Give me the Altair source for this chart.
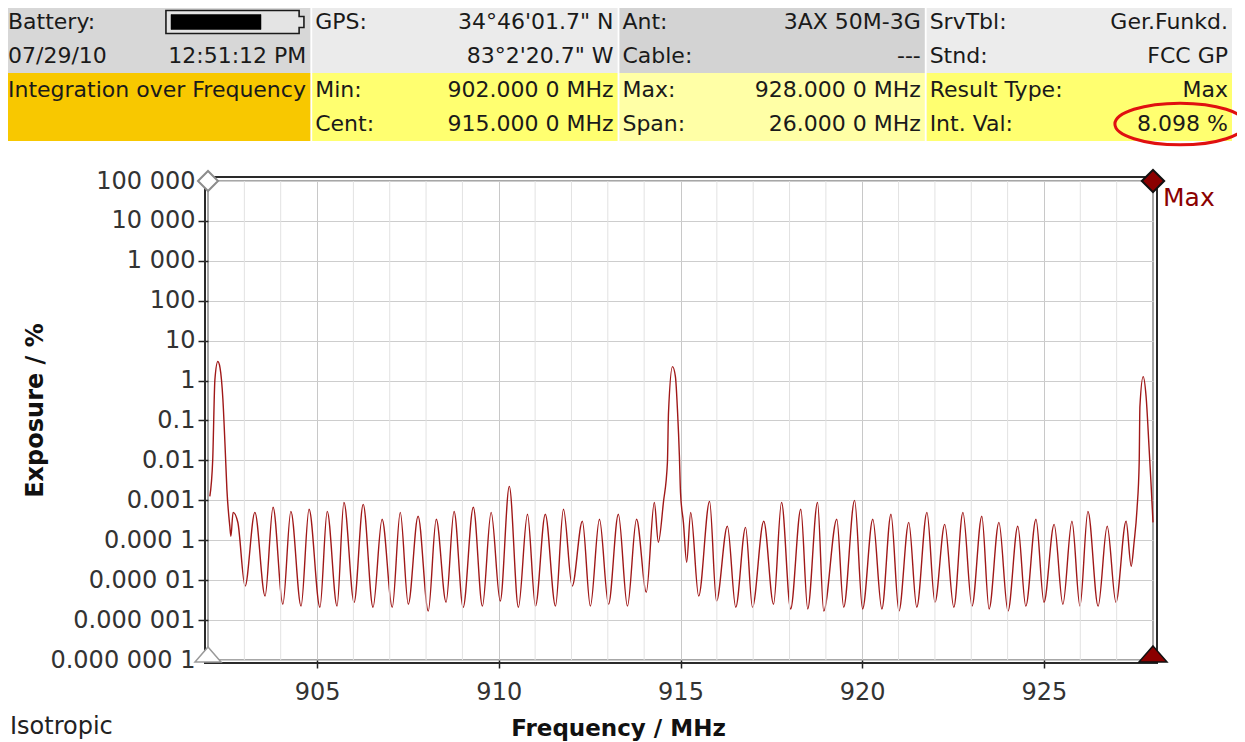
import altair as alt
import pandas as pd

# ---------------- data ----------------
FREQ_MHZ = [
    902.05, 902.13, 902.19, 902.27, 902.33, 902.41, 902.47, 902.52, 902.60, 902.63, 902.69, 902.82,
    903.02, 903.29, 903.57, 903.79, 904.06, 904.28, 904.56, 904.78,
    905.08, 905.28, 905.55, 905.74, 906.02, 906.27, 906.54, 906.79, 907.07, 907.29,
    907.51, 907.78, 908.06, 908.28, 908.55, 908.77, 909.02, 909.30, 909.55, 909.79,
    910.04, 910.29, 910.54, 910.79, 911.01, 911.28, 911.56, 911.78, 912.02, 912.30,
    912.52, 912.77, 913.02, 913.29, 913.54, 913.79, 914.06, 914.28, 914.39, 914.53,
    914.64, 914.67, 914.78, 914.86, 914.92, 914.97, 915.00, 915.08, 915.17, 915.28,
    915.50, 915.80, 915.99, 916.29, 916.52, 916.79, 916.98, 917.29, 917.56, 917.78,
    918.03, 918.31, 918.50, 918.77, 918.94, 919.30, 919.49, 919.79, 920.01, 920.29,
    920.54, 920.79, 921.01, 921.28, 921.50, 921.78, 922.00, 922.27, 922.52, 922.77,
    923.02, 923.29, 923.49, 923.76, 924.01, 924.28, 924.50, 924.78, 925.00, 925.28,
    925.52, 925.77, 925.99, 926.21, 926.49, 926.74, 926.98, 927.26, 927.40, 927.48,
    927.56, 927.62, 927.64, 927.73, 927.81, 927.89, 927.95, 928.00,
]
EXPOSURE_PCT = [
    1.26e-3, 1.06e-2, 1.06, 3.0, 2.11, 0.335, 0.0224, 1.88e-3, 2.24e-4, 1.26e-4, 5.0e-4, 2.82e-4,
    7.1e-6, 5.0e-4, 4.0e-6, 6.7e-4, 2.5e-6, 5.3e-4, 2.24e-6, 6.0e-4,
    2.1e-6, 5.3e-4, 2.24e-6, 8.9e-4, 2.8e-6, 7.9e-4, 2.1e-6, 3.35e-4, 2.1e-6, 5.0e-4,
    2.5e-6, 4.0e-4, 1.68e-6, 3.35e-4, 2.8e-6, 5.3e-4, 2.1e-6, 6.7e-4, 2.24e-6, 5.0e-4,
    3.0e-6, 2.24e-3, 2.1e-6, 4.5e-4, 2.24e-6, 4.5e-4, 2.24e-6, 6.0e-4, 7.1e-6, 3.0e-4,
    2.24e-6, 3.35e-4, 2.5e-6, 4.5e-4, 2.24e-6, 3.35e-4, 5.0e-6, 8.9e-4, 8.9e-5, 8.9e-4,
    8.9e-3, 0.158, 2.24, 1.26, 0.158, 0.0126, 1.58e-3, 2.8e-4, 2.8e-5, 5.0e-4,
    4.0e-6, 9.4e-4, 3.0e-6, 2.24e-4, 2.1e-6, 2.1e-4, 2.1e-6, 3.0e-4, 2.5e-6, 8.9e-4,
    1.9e-6, 6.0e-4, 1.9e-6, 8.9e-4, 1.68e-6, 3.35e-4, 2.1e-6, 1.0e-3, 1.9e-6, 3.35e-4,
    1.9e-6, 4.5e-4, 1.68e-6, 2.8e-4, 2.1e-6, 5.0e-4, 2.8e-6, 2.5e-4, 2.1e-6, 5.0e-4,
    2.24e-6, 4.0e-4, 1.9e-6, 2.8e-4, 1.68e-6, 2.24e-4, 2.24e-6, 3.35e-4, 2.8e-6, 2.5e-4,
    2.5e-6, 3.0e-4, 2.24e-6, 5.3e-4, 2.24e-6, 2.24e-4, 2.8e-6, 3.0e-4, 2.24e-5, 8.9e-5,
    6.0e-4, 8.9e-3, 0.224, 1.26, 0.398, 0.0224, 2.24e-3, 2.8e-4,
]

FREQ_MIN, FREQ_MAX = 902.0, 928.0
EXPO_MIN, EXPO_MAX = 1e-7, 1e5
X_TICKS = [905, 910, 915, 920, 925]
X_MINOR = [903, 904, 906, 907, 908, 909, 911, 912, 913, 914, 916, 917, 918, 919,
           921, 922, 923, 924, 926, 927]
Y_TICKS = [1e5, 1e4, 1e3, 100, 10, 1, 0.1, 0.01, 0.001, 1e-4, 1e-5, 1e-6, 1e-7]
Y_TICK_LABELS = ["100 000", "10 000", "1 000", "100", "10", "1", "0.1", "0.01",
                 "0.001", "0.000 1", "0.000 01", "0.000 001", "0.000 000 1"]

# header table (column, row, text)
HDR_LABEL_COL = [0, 0, 0, 1, 1, 1, 2, 2, 2, 2, 3, 3, 3, 3]
HDR_LABEL_ROW = [0, 1, 2, 0, 2, 3, 0, 1, 2, 3, 0, 1, 2, 3]
HDR_LABEL_TEXT = ["Battery:", "07/29/10", "Integration over Frequency",
                  "GPS:", "Min:", "Cent:",
                  "Ant:", "Cable:", "Max:", "Span:",
                  "SrvTbl:", "Stnd:", "Result Type:", "Int. Val:"]
HDR_VALUE_COL = [0, 1, 1, 1, 1, 2, 2, 2, 2, 3, 3, 3, 3]
HDR_VALUE_ROW = [1, 0, 1, 2, 3, 0, 1, 2, 3, 0, 1, 2, 3]
HDR_VALUE_TEXT = ["12:51:12 PM", "34°46'01.7\" N", "83°2'20.7\" W",
                  "902.000 0 MHz", "915.000 0 MHz",
                  "3AX 50M-3G", "---", "928.000 0 MHz", "26.000 0 MHz",
                  "Ger.Funkd.", "FCC GP", "Max", "8.098 %"]
HIGHLIGHT_COL, HIGHLIGHT_ROW = 3, 3

# ---------------- styling ----------------
FONT = "DejaVu Sans"
W, H = 945, 479
LINE_COLOR = "#a01818"
CELL_KEYS = ["0-s", "1-s", "2-s", "3-s", "0-r", "1-r", "2-r", "3-r"]
CELL_COLORS = ["#d7d7d7", "#ebebeb", "#d3d3d3", "#ececec",
               "#f8c800", "#ffff70", "#ffffa6", "#ffff70"]

# ---------------- header ----------------
cells = pd.DataFrame(
    [{"col": c, "row": r, "cell": f"{c}-{'s' if r < 2 else 'r'}"}
     for c in range(4) for r in range(4)]
)
labels_df = pd.DataFrame({"col": HDR_LABEL_COL, "row": HDR_LABEL_ROW, "text": HDR_LABEL_TEXT})
values_df = pd.DataFrame({"col": HDR_VALUE_COL, "row": HDR_VALUE_ROW, "text": HDR_VALUE_TEXT})
batt_df = pd.DataFrame({"col": [0], "row": [0]})
hl_df = pd.DataFrame({"col": [HIGHLIGHT_COL], "row": [HIGHLIGHT_ROW]})

hx = alt.Scale(type="band", domain=[0, 1, 2, 3], range=[-203, 1024], paddingInner=0.006, paddingOuter=0)
hy = alt.Scale(type="band", domain=[0, 1, 2, 3], range=[-176, -40], paddingInner=0, paddingOuter=0)


def HX(bp=None):
    if bp is None:
        return alt.X("col:O", scale=hx, axis=None)
    return alt.X("col:O", scale=hx, axis=None, bandPosition=bp)


HY = alt.Y("row:O", scale=hy, axis=None, bandPosition=0.5)

rects = alt.Chart(cells).mark_rect().encode(
    x=HX(), y=alt.Y("row:O", scale=hy, axis=None),
    color=alt.Color("cell:N", scale=alt.Scale(domain=CELL_KEYS, range=CELL_COLORS), legend=None),
)
hdr_labels = alt.Chart(labels_df).mark_text(
    align="left", baseline="middle", dx=3, font=FONT, fontSize=22, color="#1a1a1a"
).encode(x=HX(0), y=HY, text="text:N")
hdr_values = alt.Chart(values_df).mark_text(
    align="right", baseline="middle", dx=-4, font=FONT, fontSize=22, color="#1a1a1a"
).encode(x=HX(1), y=HY, text="text:N")
batt_outline = alt.Chart(batt_df).mark_point(
    shape="M-1,-0.167H0.93V-0.08H1V0.08H0.93V0.167H-1Z", size=19044,
    filled=True, fill="#e4e4e4", stroke="#1a1a1a", strokeWidth=1.6, opacity=1,
).encode(x=HX(0.753), y=HY)
batt_fill = alt.Chart(batt_df).mark_point(
    shape="M-1,-0.167H1V0.167H-1Z", size=8100,
    filled=True, fill="#000000", stroke="#000000", strokeWidth=0.5, opacity=1,
).encode(x=HX(0.691), y=HY)
ellipse = alt.Chart(hl_df).mark_point(
    shape="M-1,0A1,0.32,0,1,0,1,0A1,0.32,0,1,0,-1,0Z", size=17000,
    filled=False, stroke="#e01010", strokeWidth=3, opacity=1,
).encode(x=HX(0.83), y=HY)

# ---------------- plot ----------------
xs = alt.Scale(domain=[FREQ_MIN, FREQ_MAX], nice=False, zero=False)
ys = alt.Scale(type="log", domain=[EXPO_MIN, EXPO_MAX], nice=False)

label_expr = repr(Y_TICK_LABELS[-1])
for v, lab in reversed(list(zip(Y_TICKS[:-1], Y_TICK_LABELS[:-1]))):
    label_expr = f"datum.value > {v * 0.5:g} ? '{lab}' : ({label_expr})"

x_axis = alt.Axis(
    orient="bottom",
    values=X_TICKS, format="d", grid=True, gridColor="#c8c8c8", gridWidth=1,
    domain=False, ticks=True, tickSize=8, tickColor="#222", tickWidth=1.5,
    labelFont=FONT, labelFontSize=24, labelColor="#333", labelPadding=12, labelFlush=False,
    title="Frequency / MHz", titleFont=FONT, titleFontSize=23, titleFontWeight="bold",
    titleColor="#111", titleX=410, titleY=75, titleAlign="center", titleBaseline="alphabetic",
)
y_axis = alt.Axis(
    orient="left",
    values=Y_TICKS, labelExpr=label_expr, grid=True, gridColor="#cdcdcd", gridWidth=1,
    domain=False, ticks=True, tickSize=10, tickColor="#222", tickWidth=1.5,
    labelFont=FONT, labelFontSize=24, labelColor="#333", labelPadding=3,
    labelOverlap=False, labelFlush=False,
    title="Exposure / %", titleFont=FONT, titleFontSize=24, titleFontWeight="bold",
    titleColor="#111", titleX=-173, titleY=229, titleAngle=270,
    titleAlign="center", titleBaseline="middle",
)

line_df = pd.DataFrame({"freq": FREQ_MHZ, "expo": EXPOSURE_PCT})
grid_df = pd.DataFrame({"freq": X_MINOR})

minor_grid = alt.Chart(grid_df).mark_rule(color="#e2e2e2", strokeWidth=1).encode(
    x=alt.X("freq:Q", scale=xs, axis=None)
)
line = alt.Chart(line_df).mark_line(
    color=LINE_COLOR, strokeWidth=1.4, interpolate="monotone"
).encode(
    x=alt.X("freq:Q", scale=xs, axis=x_axis),
    y=alt.Y("expo:Q", scale=ys, axis=y_axis),
)

frame_df = pd.DataFrame({"f0": [FREQ_MIN], "f1": [FREQ_MAX], "e0": [EXPO_MAX], "e1": [EXPO_MIN]})
outer_frame = alt.Chart(frame_df).mark_rect(
    fill=None, fillOpacity=0, stroke="#2a2a2a", strokeWidth=2,
    xOffset=-3, x2Offset=4, yOffset=-4, y2Offset=3,
).encode(
    x=alt.X("f0:Q", scale=xs, axis=None), x2="f1:Q",
    y=alt.Y("e0:Q", scale=ys, axis=None), y2="e1:Q",
)


def marker(freq, expo, **kw):
    return alt.Chart(pd.DataFrame({"freq": [freq], "expo": [expo]})).mark_point(
        filled=True, opacity=1, **kw
    ).encode(
        x=alt.X("freq:Q", scale=xs, axis=None),
        y=alt.Y("expo:Q", scale=ys, axis=None),
    )


TRI = "M0,-1L1,0.15L-1,0.15Z"
m_tl = marker(FREQ_MIN, EXPO_MAX, shape="diamond", size=400, fill="white", stroke="#8c8c8c", strokeWidth=2)
m_bl = marker(FREQ_MIN, EXPO_MIN, shape=TRI, size=676, fill="white", stroke="#9a9a9a", strokeWidth=1.5)
m_tr = marker(FREQ_MAX, EXPO_MAX, shape="diamond", size=500, fill="#8b0000", stroke="#111", strokeWidth=2)
m_br = marker(FREQ_MAX, EXPO_MIN, shape=TRI, size=784, fill="#8b0000", stroke="#111", strokeWidth=1.5)

max_text = alt.Chart(pd.DataFrame({"freq": [FREQ_MAX], "expo": [EXPO_MAX], "t": ["Max"]})).mark_text(
    align="left", baseline="middle", dx=10, dy=17, font=FONT, fontSize=25, color="#8b0000"
).encode(
    x=alt.X("freq:Q", scale=xs, axis=None),
    y=alt.Y("expo:Q", scale=ys, axis=None),
    text="t:N",
)

iso_text = alt.Chart(pd.DataFrame({"t": ["Isotropic"]})).mark_text(
    align="left", baseline="middle", font=FONT, fontSize=24, color="#222"
).encode(x=alt.value(-198), y=alt.value(546), text="t:N")

chart = (
    alt.layer(
        line, minor_grid, outer_frame, m_tl, m_bl, m_tr, m_br, max_text, iso_text,
        rects, hdr_labels, hdr_values, batt_outline, batt_fill, ellipse,
    )
    .resolve_scale(x="independent", y="independent", color="independent")
    .properties(
        width=W, height=H,
        autosize=alt.AutoSizeParams(type="none"),
        padding={"left": 200, "top": 173, "right": 84, "bottom": 82},
        background="white",
    )
    .configure(font=FONT)
    .configure_view(stroke="#8a8a8a", strokeWidth=1.5)
)

chart.save("out.html", embed_options={"renderer": "svg", "actions": False})
